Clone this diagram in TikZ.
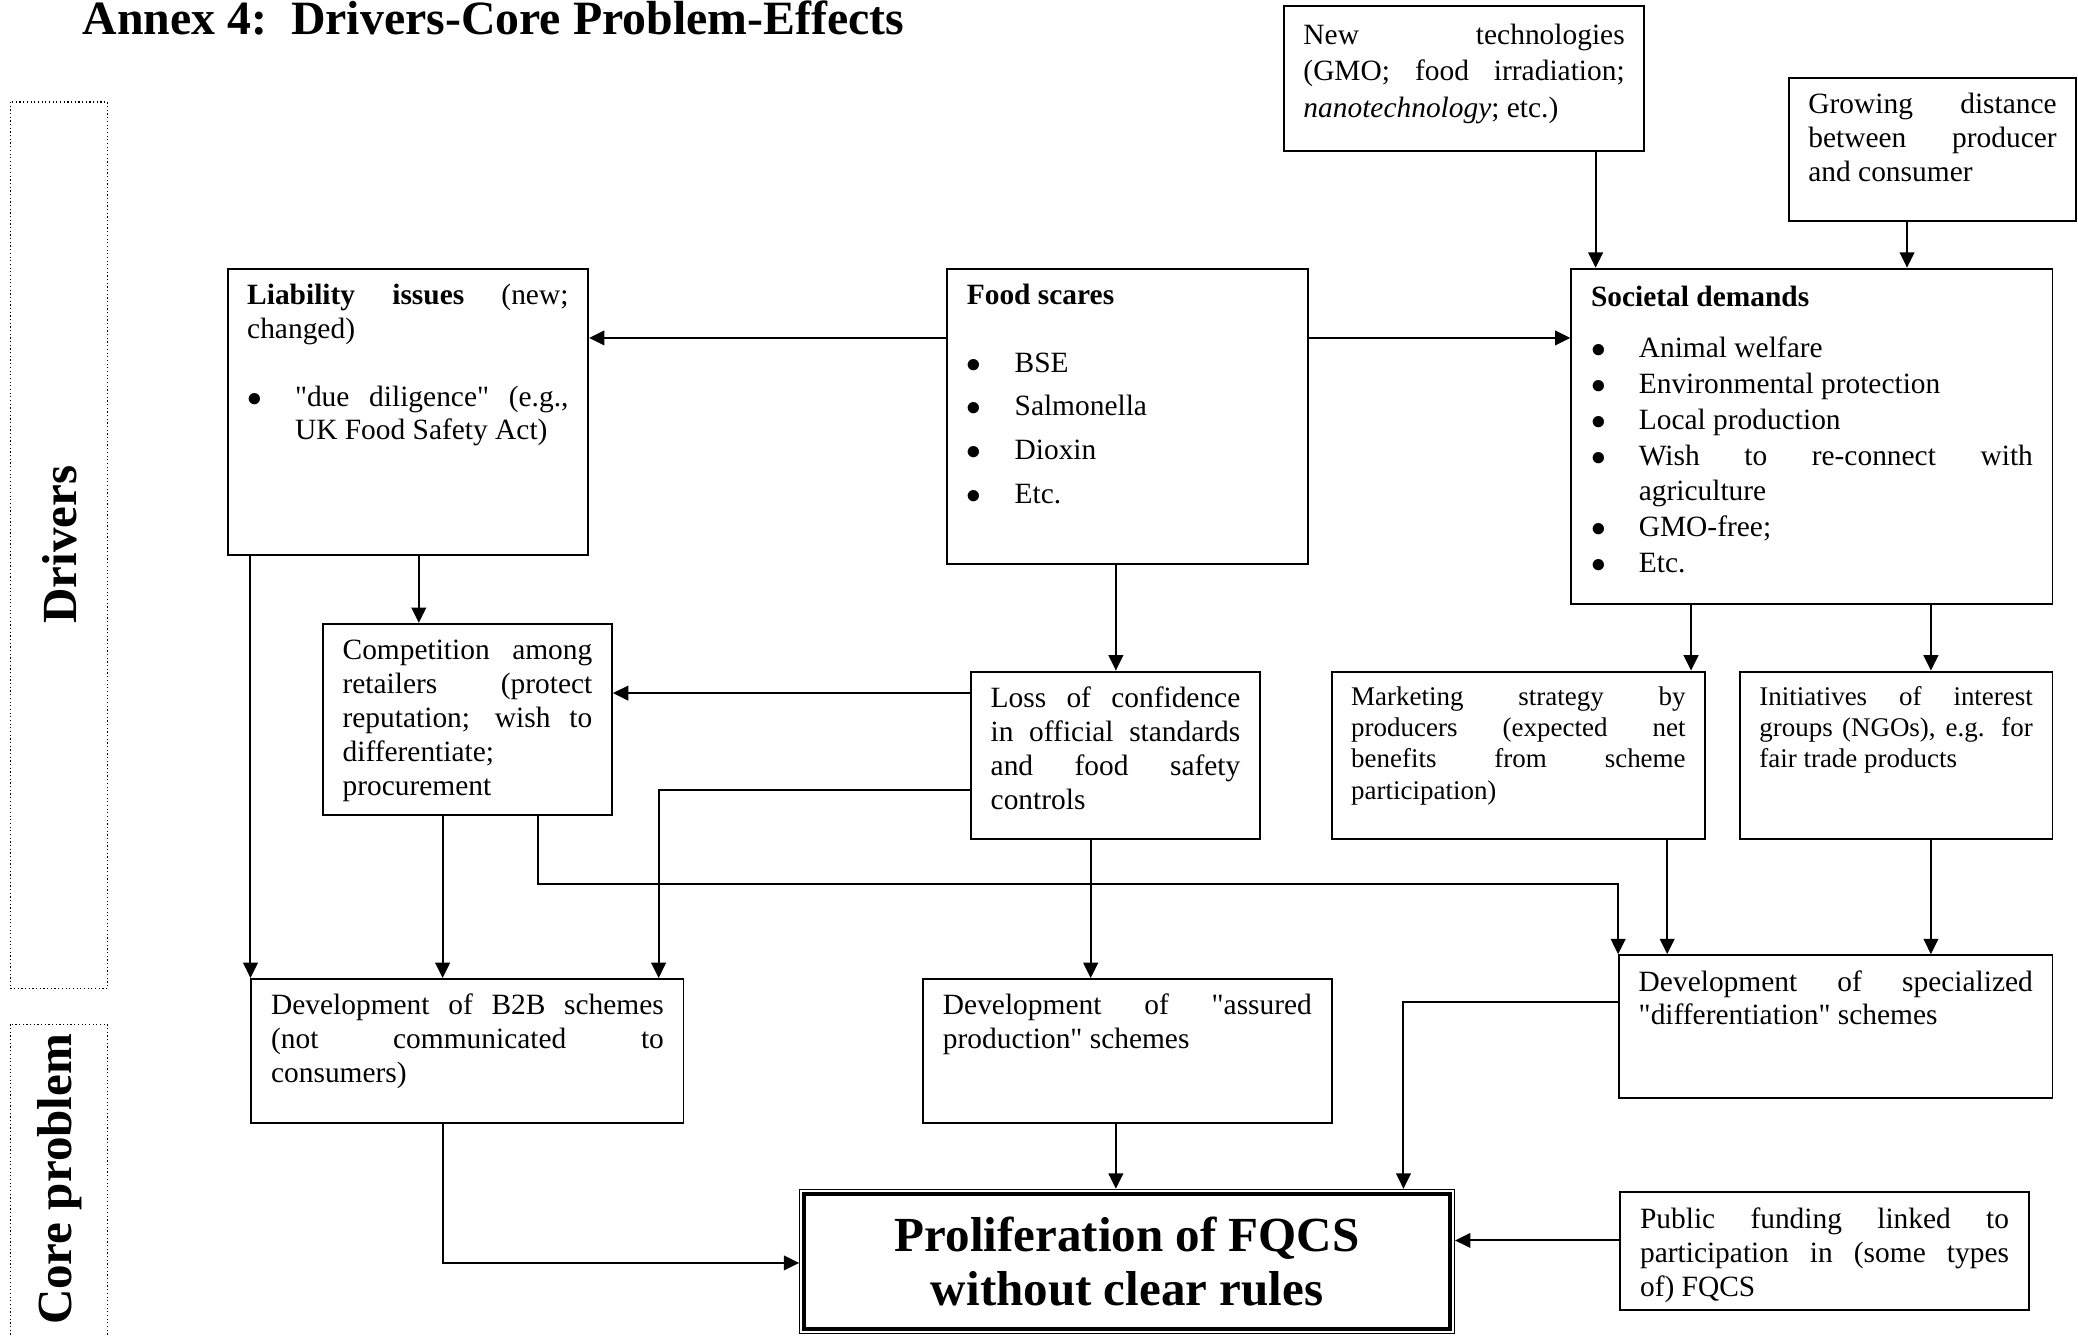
\documentclass[tikz,border=0pt]{standalone}
\usepackage{fontspec}
\setmainfont{Liberation Serif}[Ligatures=TeXOff]
\usetikzlibrary{arrows.meta}
\newdimen\unitpx
\unitpx=0.019cm
\newcommand{\bodyfont}{\fontsize{12}{13.8}\selectfont}
\newcommand{\smallfont}{\fontsize{11}{12.7}\selectfont}
\newcommand{\bigfont}{\fontsize{20}{22}\selectfont\bfseries}
% text block at the top of a framed box: width, height (in px), text
\newcommand{\boxtext}[3]{\parbox[t][\dimexpr#2\unitpx-10pt\relax][t]{\dimexpr#1\unitpx-16pt\relax}{%
  \hyphenpenalty=10000\exhyphenpenalty=10000\tolerance=10000\hbadness=10000\strut#3}}
\newcommand{\bitem}[1]{\par\hangindent=19.5pt\hangafter=1\noindent\makebox[19.5pt][l]{$\bullet$}#1}

\begin{document}
\begin{tikzpicture}[x=0.019cm, y=-0.019cm,
    box/.style={draw, line width=0.8pt, anchor=north west, inner xsep=8pt, inner ysep=5pt, font=\bodyfont},
    smallbox/.style={box, font=\smallfont},
    corebox/.style={draw, line width=0.5pt, anchor=north west, inner sep=0pt, align=center,
      minimum width=494\unitpx, minimum height=109\unitpx, font=\bigfont},
    sidelabel/.style={rotate=90, font=\bigfont},
    sideframe/.style={densely dotted, line width=0.5pt},
    arr/.style={-{Triangle[length=2.2mm,width=2.1mm]}, line width=0.8pt}
  ]
  \useasboundingbox (0,0) rectangle (1568,1008);

  \node[anchor=base west, inner sep=0pt, font=\fontsize{19.5}{22}\selectfont\bfseries] (title) at (62,26) {Annex 4:\ \ Drivers-Core Problem-Effects};

  % side bands
  \draw[sideframe] (8,77) rectangle (81,746);
  \draw[sideframe] (8,773) rectangle (81,1020);
  \node[sidelabel] (drivers) at (45,411) {Drivers};
  \node[sidelabel] (coreprob) at (45,890) {Core problem};

  % drivers
  \node[box, font=\fontsize{12}{14.9}\selectfont] (newtech) at (968,4) {\boxtext{272}{109}{New technologies\linebreak (GMO; food irradiation;\linebreak \textit{nanotechnology}; etc.)}};
  \node[box] (distance) at (1349,58) {\boxtext{217}{108}{Growing distance\linebreak between producer\linebreak and consumer}};
  \node[box] (liability) at (171,202) {\boxtext{272}{216}{\textbf{Liability issues} (new;\linebreak changed)\par\vspace{\baselineskip}%
    \bitem{"due diligence" (e.g.,\linebreak UK Food Safety Act)}}};
  \node[box] (scares) at (714,202) {\boxtext{272}{223}{\textbf{Food scares}\par\vspace{\baselineskip}%
    \bitem{BSE}\par\vspace{4pt}\bitem{Salmonella}\par\vspace{4pt}\bitem{Dioxin}\par\vspace{4pt}\bitem{Etc.}}};
  \node[box, font=\fontsize{12}{14.6}\selectfont] (societal) at (1185,202) {\boxtext{363}{253}{\textbf{Societal demands}\par\vspace{6.5pt}%
    \bitem{Animal welfare}\bitem{Environmental protection}\bitem{Local production}%
    \bitem{Wish to re-connect with\linebreak agriculture}\bitem{GMO-free;}\bitem{Etc.}}};
  \node[box] (competition) at (243,470) {\boxtext{218}{144}{Competition among\linebreak retailers (protect\linebreak reputation; wish to\linebreak differentiate;\newline procurement}};
  \node[box] (confidence) at (732,506) {\boxtext{218}{126}{Loss of confidence\linebreak in official standards\linebreak and food safety\linebreak controls}};
  \node[smallbox] (marketing) at (1004,506) {\boxtext{282}{126}{Marketing strategy by\linebreak producers (expected net\linebreak benefits from scheme\linebreak participation)}};
  \node[smallbox] (initiatives) at (1312,506) {\boxtext{236}{126}{Initiatives of interest\linebreak groups (NGOs), e.g. for\linebreak fair trade products}};

  % schemes
  \node[box] (btob) at (189,738) {\boxtext{326}{109}{Development of B2B schemes\linebreak (not communicated to\linebreak consumers)}};
  \node[box] (assured) at (696,738) {\boxtext{308}{109}{Development of "assured\linebreak production" schemes}};
  \node[box] (special) at (1221,720) {\boxtext{327}{108}{Development of specialized\linebreak "differentiation" schemes}};

  % core problem
  \node[corebox] (core) at (603,897) {Proliferation of FQCS\\without clear rules};
  \draw[line width=1.6pt] ([xshift=4\unitpx, yshift=-4\unitpx]core.north west) rectangle ([xshift=-4\unitpx, yshift=4\unitpx]core.south east);
  \node[box] (funding) at (1222,899) {\boxtext{308}{89}{Public funding linked to\linebreak participation in (some types\linebreak of) FQCS}};

  % connectors
  \draw[arr] (scares.west |- 0,255) -- (liability.east |- 0,255);
  \draw[arr] (scares.east |- 0,255) -- (societal.west |- 0,255);
  \draw[arr] (newtech.south -| 1204,0) -- (societal.north -| 1204,0);
  \draw[arr] (distance.south -| 1439,0) -- (societal.north -| 1439,0);
  \draw[arr] (liability.south -| 316,0) -- (competition.north -| 316,0);
  \draw[arr] (liability.south -| 189,0) -- (btob.north west);
  \draw[arr] (scares.south -| 842,0) -- (confidence.north -| 842,0);
  \draw[arr] (confidence.west |- 0,523) -- (competition.east |- 0,523);
  \draw[arr] (confidence.west |- 0,596) -| (btob.north -| 497,0);
  \draw[arr] (confidence.south -| 823,0) -- (assured.north -| 823,0);
  \draw[arr] (competition.south -| 334,0) -- (btob.north -| 334,0);
  \draw[arr] (competition.south -| 406,0) -- (406,667) -| (special.north west);
  \draw[arr] (societal.south -| 1276,0) -- (marketing.north -| 1276,0);
  \draw[arr] (societal.south -| 1457,0) -- (initiatives.north -| 1457,0);
  \draw[arr] (marketing.south -| 1258,0) -- (special.north -| 1258,0);
  \draw[arr] (initiatives.south -| 1457,0) -- (special.north -| 1457,0);
  \draw[arr] (special.west |- 0,756) -| (core.north -| 1059,0);
  \draw[arr] (btob.south -| 334,0) |- (core.west |- 0,953);
  \draw[arr] (assured.south -| 842,0) -- (core.north -| 842,0);
  \draw[arr] (funding.west |- 0,936) -- (core.east |- 0,936);
\end{tikzpicture}
\end{document}
